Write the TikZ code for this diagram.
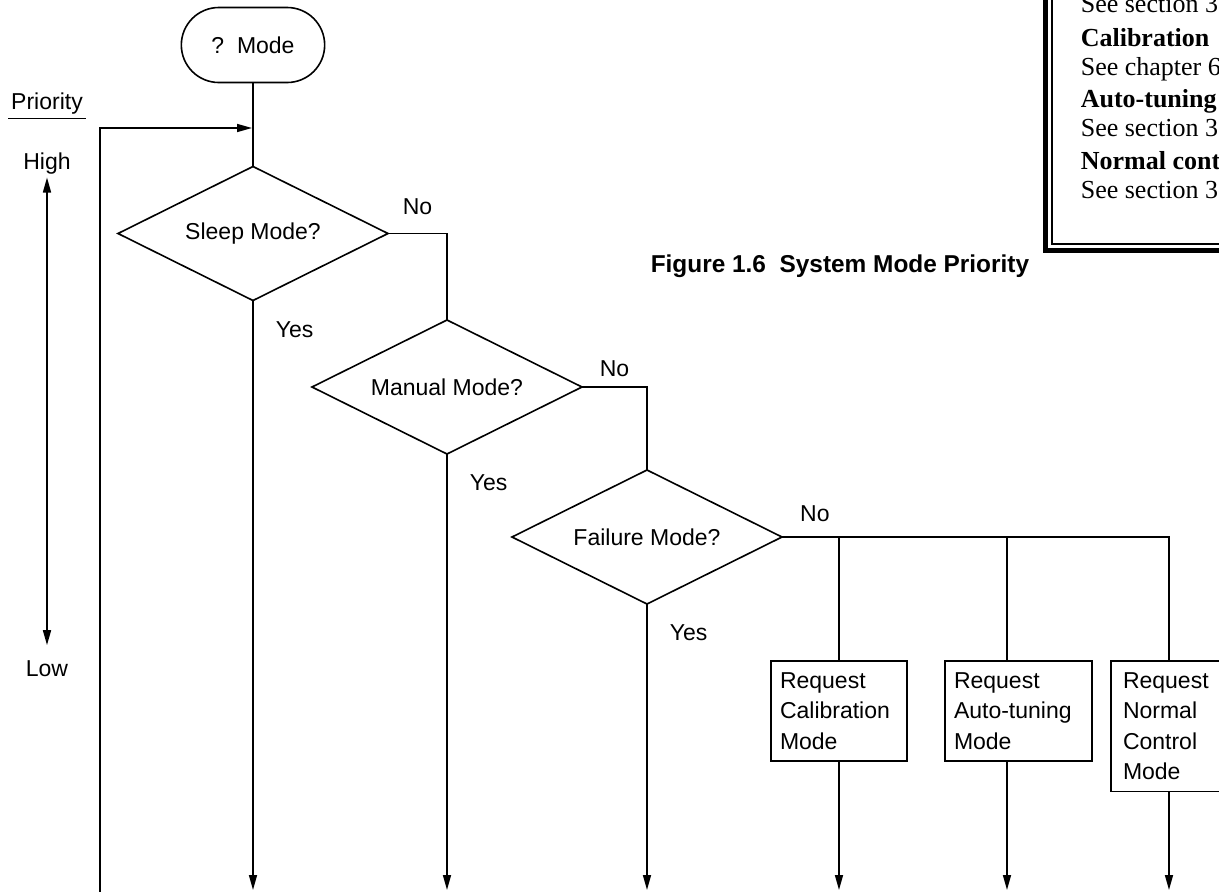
\documentclass[tikz,border=0pt]{standalone}
\usepackage{fontspec}
\setmainfont{Liberation Sans}
\newfontfamily\notefont{Liberation Serif}
\usetikzlibrary{arrows.meta,positioning,shapes.geometric,shapes.misc}

\begin{document}
\begin{tikzpicture}[x=1pt,y=-1pt,>={Triangle[length=15pt,width=8pt]},line width=1.6pt,
  font=\fontsize{23}{30.5}\selectfont,
  decision/.style={diamond,aspect=2,draw,minimum width=270pt,minimum height=134pt,inner sep=0pt,outer sep=0pt},
  reqbox/.style={draw,align=left,anchor=north west,inner xsep=9pt,inner ysep=11.5pt,outer sep=0pt},
  lbl/.style={inner sep=0pt},
  note/.style={anchor=base west,inner sep=0pt,font=\notefont\fontsize{26}{29}\selectfont}]

  \useasboundingbox (0,0) rectangle (1219,892);
  \clip (0,0) rectangle (1219,892);

  \node[rounded rectangle,draw,minimum width=150pt,minimum height=75pt,outer sep=0pt] (mode) at (253,45) {?~~Mode};
  \node[decision,below=84pt of mode] (sleep) {Sleep Mode?};
  \node[decision] (manual) at (447,387) {Manual Mode?};
  \node[decision] (failure) at (647,537) {Failure Mode?};

  \node[reqbox,text width=118pt] (calib) at (771,661) {Request\\Calibration\\Mode};
  \node[reqbox,text width=129pt] (tune) at (945,661) {Request\\Auto-tuning\\Mode};
  \node[reqbox,text width=100pt,inner xsep=12pt] (normal) at (1111,661) {Request\\Normal\\Control\\Mode};

  \coordinate (bot) at (0,890);
  \coordinate (loop) at (100,892);
  \coordinate (join) at (252,128);
  \coordinate (brA) at (839,537);
  \coordinate (brB) at (1007,537);
  \coordinate (brC) at (1169,537);

  \node[inner xsep=2pt,inner ysep=3pt] (prio) at (47,104) {Priority};
  \node[inner sep=2pt] (high) at (47,164) {High};
  \node[inner sep=2pt] (low) at (47,669) {Low};
  \draw[line width=1.2pt] (prio.south west) -- (prio.south east);
  \draw[<->,shorten >=13pt] (high) -- (low);

  \draw (mode) -- (sleep);
  \draw[->] (loop) |- (join);
  \draw (sleep.east) -| node[lbl,pos=0.25,above=18pt] (noA) {No} (manual.north);
  \draw (manual.east) -| node[lbl,pos=0.25,above=9pt] (noB) {No} (failure.north);
  \draw (failure.east) -- node[lbl,pos=0.085,above=14pt] (noC) {No} (brC) -- (brC |- normal.north);
  \draw (brA) -- (brA |- calib.north);
  \draw (brB) -- (brB |- tune.north);

  \node[lbl,below right=20pt and 22pt of sleep.south] (yesA) {Yes};
  \node[lbl,below right=20pt and 22pt of manual.south] (yesB) {Yes};
  \node[lbl,below right=20pt and 22pt of failure.south] (yesC) {Yes};

  \draw[->] (sleep.south) -- (sleep.south |- bot);
  \draw[->] (manual.south) -- (manual.south |- bot);
  \draw[->] (failure.south) -- (failure.south |- bot);
  \draw[->] (brA |- calib.south) -- (brA |- bot);
  \draw[->] (brB |- tune.south) -- (brB |- bot);
  \draw[->] (brC |- normal.south) -- (brC |- bot);

  \node[anchor=base west,inner sep=0pt,font=\bfseries\fontsize{24.4}{28}\selectfont] (caption) at (650,272) {Figure 1.6\ \ System Mode Priority};

  \draw[line width=5pt] (1045.5,-10) |- (1230,250);
  \draw[line width=1.2pt] (1052,-10) |- (1230,244);
  \foreach \yy/\txt in {12/See section 3,46/\textbf{Calibration},75/See chapter 6,107/\textbf{Auto-tuning},136/See section 3,169/\textbf{Normal cont},198/See section 3}
    \node[note] (note\yy) at (1080,\yy) {\txt};
\end{tikzpicture}
\end{document}
